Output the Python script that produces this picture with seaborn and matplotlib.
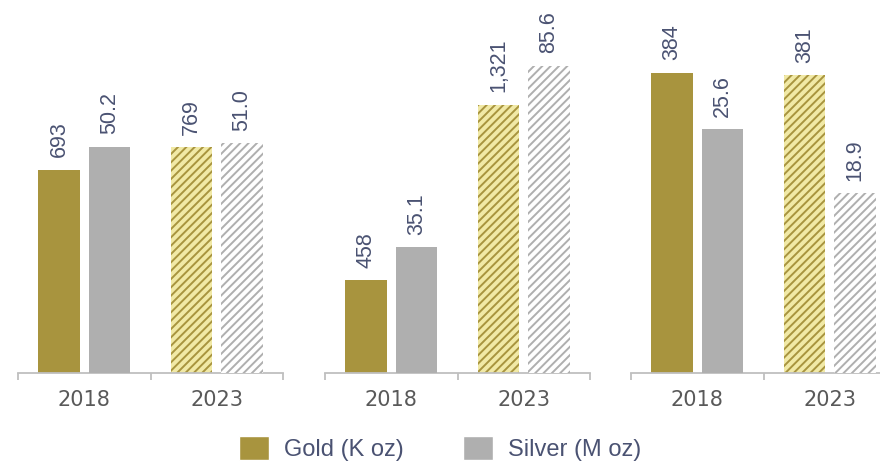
import pandas as pd
import matplotlib
matplotlib.use('Agg')
import matplotlib.pyplot as plt
import seaborn as sns
from matplotlib.patches import Patch

# Данные: три панели, в каждой 2018 и 2023
years = ['2018', '2023']
gold_koz = [[693, 769], [458, 1321], [384, 381]]
silver_moz = [[50.2, 51.0], [35.1, 85.6], [25.6, 18.9]]
series = ['Gold (K oz)', 'Silver (M oz)']

# Масштаб осей для каждой панели (своя шкала у золота и серебра)
gold_ylim = [1271, 1838, 477]
silver_ylim = [82.8, 104.0, 39.2]

GOLD = '#a8943e'
GOLD_LIGHT = '#f1e9a6'
SILVER = '#afafaf'
LABEL_COLOR = '#4a5272'
TICK_COLOR = '#595959'
AXIS_COLOR = '#bfbfbf'

sns.set_theme(style='white')
plt.rcParams['font.family'] = ['Liberation Sans', 'DejaVu Sans']
plt.rcParams['hatch.linewidth'] = 1.4

W, H = 880, 461
fig = plt.figure(figsize=(W / 100, H / 100), dpi=100)
panel_left = [18, 325, 631]
panel_w = 265
base_y = 373


def style_bars(ax, fmt, light, dark):
    for cont in ax.containers:
        for bar in cont:
            bar.set_linewidth(0)
            if bar.get_x() + bar.get_width() / 2 > 0.5:
                bar.set_facecolor(light)
                bar.set_edgecolor(dark)
                bar.set_hatch('////')
        ax.bar_label(cont, labels=[fmt.format(v) for v in cont.datavalues],
                     rotation=90, padding=9, fontsize=15.5, color=LABEL_COLOR)


for i in range(3):
    ax = fig.add_axes([panel_left[i] / W, (H - base_y) / H,
                       panel_w / W, base_y / H])
    ax2 = ax.twinx()

    df_gold = pd.DataFrame({'year': years, 'value': gold_koz[i],
                            'metal': series[0]})
    df_silver = pd.DataFrame({'year': years, 'value': silver_moz[i],
                              'metal': series[1]})

    sns.barplot(data=df_gold, x='year', y='value', hue='metal',
                hue_order=series, palette=[GOLD, SILVER], saturation=1,
                width=0.76, gap=0.18, dodge=True, legend=False, ax=ax)
    sns.barplot(data=df_silver, x='year', y='value', hue='metal',
                hue_order=series, palette=[GOLD, SILVER], saturation=1,
                width=0.76, gap=0.18, dodge=True, legend=False, ax=ax2)

    style_bars(ax, '{:,.0f}', GOLD_LIGHT, GOLD)
    style_bars(ax2, '{:.1f}', 'white', SILVER)

    ax.set_ylim(0, gold_ylim[i])
    ax2.set_ylim(0, silver_ylim[i])
    for a in (ax, ax2):
        a.set_xlim(-0.5, 1.5)
        a.set_xlabel('')
        a.set_ylabel('')
        a.set_yticks([])
        for s in ['top', 'left', 'right']:
            a.spines[s].set_visible(False)
    ax2.spines['bottom'].set_visible(False)
    ax.spines['bottom'].set_color(AXIS_COLOR)
    ax.spines['bottom'].set_linewidth(1.3)

    ax.set_xticks([0, 1])
    ax.set_xticklabels(years, fontfamily='DejaVu Sans', fontsize=15,
                       color=TICK_COLOR)
    ax.set_xticks([-0.5, 0.5, 1.5], minor=True)
    ax.tick_params(axis='x', which='major', length=0, pad=12)
    ax.tick_params(axis='x', which='minor', length=5, width=1.3,
                   color=AXIS_COLOR, bottom=True)
    ax2.tick_params(axis='x', which='both', length=0, labelbottom=False)

handles = [Patch(facecolor=GOLD, label=series[0]),
           Patch(facecolor=SILVER, label=series[1])]
leg = fig.legend(handles=handles, loc='lower center',
                 bbox_to_anchor=(0.5, 0.0), ncol=2, frameon=False,
                 fontsize=17, handlelength=1.27, handleheight=1.19,
                 handletextpad=0.64, columnspacing=2.5,
                 borderpad=0, borderaxespad=0)
for t in leg.get_texts():
    t.set_color(LABEL_COLOR)

fig.savefig('out.png', dpi=100)
